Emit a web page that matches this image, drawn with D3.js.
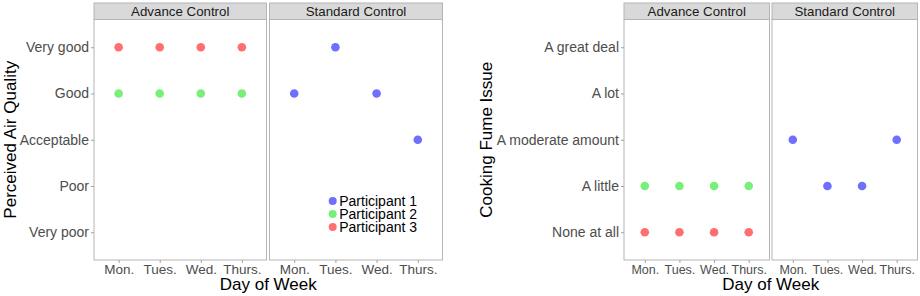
<!DOCTYPE html>
<html>
<head>
<meta charset="utf-8">
<script src="https://cdn.jsdelivr.net/npm/d3@7"></script>
<style>
  body { margin: 0; background: #fff; }
  text { font-family: "Liberation Sans", Arial, sans-serif; }
</style>
</head>
<body>
<div id="chart"></div>
<script>
// Data
const days = ["Mon.", "Tues.", "Wed.", "Thurs."];
const panels = ["Advance Control", "Standard Control"];
const participants = ["Participant 1", "Participant 2", "Participant 3"];

const airLevels = ["Very poor", "Poor", "Acceptable", "Good", "Very good"];
const airAdvanceP2 = ["Good", "Good", "Good", "Good"];
const airAdvanceP3 = ["Very good", "Very good", "Very good", "Very good"];
const airStandardP1 = ["Good", "Very good", "Good", "Acceptable"];

const fumeLevels = ["None at all", "A little", "A moderate amount", "A lot", "A great deal"];
const fumeAdvanceP2 = ["A little", "A little", "A little", "A little"];
const fumeAdvanceP3 = ["None at all", "None at all", "None at all", "None at all"];
const fumeStandardP1 = ["A moderate amount", "A little", "A little", "A moderate amount"];

const color = d3.scaleOrdinal()
  .domain(participants)
  .range(["#6e6eff", "#78ef78", "#ff6f6f"]);

function toRecords(panel, participant, values) {
  return values.map((v, i) => ({ panel: panel, participant: participant, day: days[i], level: v }));
}

const airData = [
  ...toRecords("Advance Control", "Participant 2", airAdvanceP2),
  ...toRecords("Advance Control", "Participant 3", airAdvanceP3),
  ...toRecords("Standard Control", "Participant 1", airStandardP1)
];
const fumeData = [
  ...toRecords("Advance Control", "Participant 2", fumeAdvanceP2),
  ...toRecords("Advance Control", "Participant 3", fumeAdvanceP3),
  ...toRecords("Standard Control", "Participant 1", fumeStandardP1)
];

const svg = d3.select("#chart")
  .append("svg")
  .attr("width", 920)
  .attr("height", 296);

const stripTop = 3, panelTop = 19.5, panelBottom = 260;

function drawChart(opts) {
  const g = svg.append("g");

  const y = d3.scalePoint()
    .domain(opts.levels)
    .range([panelBottom, panelTop])
    .padding(0.6);

  opts.panelX.forEach((px, pi) => {
    const panel = panels[pi];
    const x = d3.scalePoint()
      .domain(days)
      .range(px)
      .padding(0.6);

    // strip
    g.append("rect")
      .attr("x", px[0]).attr("y", stripTop)
      .attr("width", px[1] - px[0]).attr("height", panelTop - stripTop)
      .attr("fill", "#d9d9d9")
      .attr("stroke", "#b5b5b5");
    g.append("text")
      .attr("x", (px[0] + px[1]) / 2).attr("y", 16)
      .attr("text-anchor", "middle")
      .attr("font-size", 13.3)
      .attr("fill", "#1a1a1a")
      .text(panel);

    // panel border
    g.append("rect")
      .attr("x", px[0]).attr("y", panelTop)
      .attr("width", px[1] - px[0]).attr("height", panelBottom - panelTop)
      .attr("fill", "#fff")
      .attr("stroke", "#b5b5b5");

    // x axis
    const xAxis = g.append("g")
      .attr("transform", `translate(0,${panelBottom})`)
      .call(d3.axisBottom(x).tickSize(3).tickPadding(3));
    xAxis.select(".domain").remove();
    xAxis.selectAll(".tick line").attr("stroke", "#a0a0a0");
    xAxis.selectAll(".tick text")
      .attr("y", 14)
      .attr("dy", 0)
      .attr("font-size", opts.xTickSize)
      .attr("font-family", "Liberation Sans, Arial, sans-serif")
      .attr("fill", "#4d4d4d");

    // y axis on first panel
    if (pi === 0) {
      const yAxis = g.append("g")
        .attr("transform", `translate(${px[0]},0)`)
        .call(d3.axisLeft(y).tickSize(3).tickPadding(2));
      yAxis.select(".domain").remove();
      yAxis.selectAll(".tick line").attr("stroke", "#a0a0a0");
      yAxis.selectAll(".tick text")
        .attr("font-size", 14)
        .attr("font-family", "Liberation Sans, Arial, sans-serif")
        .attr("fill", "#4d4d4d");
    }

    // points
    g.selectAll(null)
      .data(opts.data.filter(d => d.panel === panel))
      .enter()
      .append("circle")
      .attr("cx", d => x(d.day))
      .attr("cy", d => y(d.level))
      .attr("r", 4.3)
      .attr("fill", d => color(d.participant));
  });

  // axis titles
  const xMid = (opts.panelX[0][0] + opts.panelX[1][1]) / 2;
  g.append("text")
    .attr("x", xMid).attr("y", 290)
    .attr("text-anchor", "middle")
    .attr("font-size", 17)
    .attr("fill", "#000")
    .text("Day of Week");

  g.append("text")
    .attr("transform", `translate(${opts.yTitleX},${(panelTop + panelBottom) / 2}) rotate(-90)`)
    .attr("text-anchor", "middle")
    .attr("font-size", 17)
    .attr("fill", "#000")
    .text(opts.yTitle);

  return g;
}

const left = drawChart({
  data: airData,
  levels: airLevels,
  panelX: [[94, 266.5], [269.5, 442.5]],
  xTickSize: 13.5,
  yTitle: "Perceived Air Quality",
  yTitleX: 16
});

drawChart({
  data: fumeData,
  levels: fumeLevels,
  panelX: [[624, 769.5], [772, 917.5]],
  xTickSize: 12.5,
  yTitle: "Cooking Fume Issue",
  yTitleX: 492
});

// Legend inside the Standard Control panel of the left chart
const legend = left.selectAll(".legend")
  .data(participants)
  .enter()
  .append("g")
  .attr("class", "legend")
  .attr("transform", (d, i) => `translate(332.7,${201 + i * 13})`);

legend.append("circle")
  .attr("r", 4)
  .attr("fill", d => color(d));

legend.append("text")
  .attr("x", 6.5)
  .attr("dy", "0.36em")
  .attr("font-size", 14)
  .attr("fill", "#000")
  .text(d => d);
</script>
</body>
</html>
